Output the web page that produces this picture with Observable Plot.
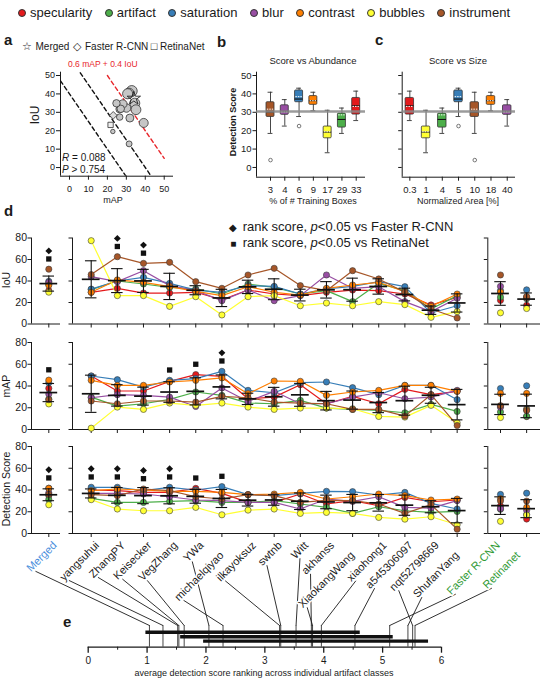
<!DOCTYPE html>
<html lang="en">
<head>
<meta charset="utf-8">
<title>Artifact detection scores</title>
<script src="https://cdn.jsdelivr.net/npm/d3@7"></script>
<script src="https://cdn.jsdelivr.net/npm/@observablehq/plot@0.6"></script>
<style>
  html, body { margin: 0; padding: 0; background: #fff; }
  #chart { position: relative; width: 541px; height: 678px; overflow: hidden; background: #fff;
           font-family: "Liberation Sans", Arial, Helvetica, sans-serif; color: #1a1a1a; }
  #chart > svg { position: absolute; left: 0; top: 0; }
  .lbl { position: absolute; white-space: nowrap; line-height: 1; }
</style>
</head>
<body>
<div id="chart"></div>
<script>
// ---------- artifact classes ----------
const classes = ["specularity", "artifact", "saturation", "blur", "contrast", "bubbles", "instrument"];
const classColors = ["#e41a1c", "#4daf4a", "#377eb8", "#984ea3", "#ff7f00", "#ffff33", "#a65628"];

// ---------- entries ----------
const teams = ["yangsuhui", "ZhangPY", "Keisecker", "VegZhang", "YWa", "michaelqiyao", "ilkayoksuz",
  "swtnb", "Witt", "akhanss", "XiaokangWang", "xiaohong1", "a545306097", "nqt52798669", "ShufanYang"];
const baselineNames = ["Faster R-CNN", "Retinanet"];

// per-class scores (columns follow `classes`)
const iouTeams = [
  [29.5, 32, 32.5, 44, 29.5, 77.5, 46],
  [33.2, 40, 40, 39.4, 41, 26.4, 62.6],
  [28.8, 37.2, 43.4, 49.6, 38.8, 26.4, 56.4],
  [28.8, 34, 37.8, 35.7, 34.7, 16.4, 57.4],
  [29.5, 32.6, 31.6, 31, 30.4, 25.4, 39.4],
  [22.6, 27.9, 29.5, 21.7, 26.4, 8.4, 33.2],
  [31.6, 37.2, 35.7, 31.6, 34.7, 25.4, 45.6],
  [27.9, 34, 35, 21.7, 29.5, 26.4, 51.8],
  [26.4, 27.9, 27.9, 26.4, 27, 17, 35.7],
  [29.5, 31, 32.6, 45.6, 33.2, 19.5, 31],
  [31.6, 20.8, 35, 33.2, 36.3, 17, 49.6],
  [31, 37.8, 39.4, 34.7, 38.8, 20.8, 41.9],
  [27.9, 31, 34.7, 20.8, 30, 18, 29.5],
  [17.7, 14, 10.2, 11.5, 16.4, 6.2, 14],
  [24.8, 26.4, 17, 23.9, 27.9, 11.5, 5.6]
];
const mapTeams = [
  [49.2, 29.8, 49.2, 29.2, 45.2, 1.2, 26.2],
  [35.4, 21.5, 45.8, 32, 40.6, 20.6, 23.7],
  [35.4, 23.7, 39, 31.4, 40.6, 18.5, 26.2],
  [44.3, 27.7, 45.2, 29.8, 43.7, 24.3, 26.2],
  [50.5, 34.5, 46.8, 21.2, 45.2, 22.2, 25.2],
  [48.9, 31.4, 53.5, 38.2, 47.4, 24.3, 30.5],
  [28.3, 24.3, 36, 25.8, 32.9, 20.6, 29.2],
  [29.8, 23.7, 33.8, 35.1, 44.6, 18.5, 25.2],
  [41.2, 26.8, 43.1, 23.7, 44.3, 19.7, 24.3],
  [23.7, 19.7, 43.7, 23.7, 31.4, 19.7, 23.7],
  [30.5, 18.5, 38.5, 29.8, 34.5, 19.1, 18.5],
  [23.7, 17.5, 32, 33.8, 36, 12, 18.5],
  [36.9, 15.4, 40.6, 28.3, 40.6, 11.4, 12.3],
  [32, 23.1, 40.6, 29.8, 40.6, 22.2, 32],
  [35.1, 16.6, 27.4, 36, 35.1, 6.2, 3.7]
];
const dsTeams = [
  [40, 32.3, 42.5, 36.9, 39.4, 31.1, 35.7],
  [39.4, 28.6, 42.5, 36.9, 40.9, 22.5, 34.8],
  [37.8, 28.6, 39.4, 36.3, 40, 20.9, 40.9],
  [37.8, 29.5, 42.5, 33.8, 38.8, 20.9, 39.4],
  [41.5, 30.2, 40, 30.8, 38.8, 24, 33.8],
  [36.9, 28.6, 43.1, 30.2, 37.8, 17.2, 31.7],
  [28.6, 28.6, 35.7, 28.6, 35.7, 21.5, 35.7],
  [28.6, 30.2, 34.8, 28.6, 36.3, 22.5, 34.8],
  [36.3, 27.1, 36.9, 22.5, 37.8, 18.5, 28.6],
  [27.1, 24, 38.8, 31.7, 31.7, 19.4, 30.5],
  [30.2, 18.5, 38.5, 29.5, 33.8, 18.5, 30.2],
  [25.5, 24.6, 35.4, 33.8, 36.3, 14.8, 27.1],
  [33.2, 20.9, 37.8, 24, 34.8, 13.2, 18.5],
  [29.2, 19.4, 27.7, 23.4, 30.8, 15.4, 26.5],
  [30.8, 20.3, 22.5, 30.2, 31.7, 8, 4]
];
const iouMerged = [31.1, 37, 39.7, 38.7, 36, 29.6, 51];
const mapMerged = [37.8, 28, 43, 32.6, 45.4, 23.5, 27.4];
const dsMerged = [35, 31.3, 41.6, 37.4, 41.6, 26.4, 36];
const iouBaselines = [[22, 25, 31, 35, 29.7, 10.4, 45.6], [17.4, 23.5, 31.8, 24.5, 25, 14.4, 25.6]];
const mapBaselines = [[21.3, 16.1, 37.7, 20.4, 33.2, 11, 21.9], [11.9, 12.2, 40.2, 18.9, 33.2, 18, 17.4]];
const dsBaselines = [[25.2, 22.3, 35.9, 22.8, 32, 11.2, 30], [13.3, 17.4, 37.1, 21.3, 24, 17, 29.8]];

// entries whose rank score differs (p<0.05) from each baseline
const fasterSigIoU = ["Merged", "ZhangPY", "Keisecker"];
const retinaSigIoU = ["Merged", "ZhangPY", "Keisecker"];
const fasterSigMAP = ["michaelqiyao"];
const retinaSigMAP = ["Merged", "VegZhang", "YWa", "michaelqiyao"];
const fasterSigDS = ["Merged", "yangsuhui", "ZhangPY", "Keisecker", "VegZhang"];
const retinaSigDS = ["Merged", "yangsuhui", "ZhangPY", "Keisecker", "VegZhang", "YWa", "michaelqiyao"];

// class orderings for the abundance / size panels
const abundanceClasses = ["instrument", "blur", "saturation", "contrast", "bubbles", "artifact", "specularity"];
const abundanceLabels = ["3", "4", "6", "9", "17", "29", "33"];
const sizeClasses = ["specularity", "bubbles", "artifact", "saturation", "instrument", "contrast", "blur"];
const sizeLabels = ["0.3", "1", "4", "5", "10", "18", "40"];

// iso-score lines 0.6 mAP + 0.4 IoU = level
const isoLevels = [16, 24];
const bestLevel = 32;
const bestSpan = [20, 50];

// average rank across artifact classes
const rankEntries = ["Merged", ...teams, ...baselineNames];
const avgRank = [1.04, 1.27, 1.52, 1.54, 1.63, 2.05, 2.29, 3.25, 3.27, 3.53, 3.79, 3.81, 3.96, 4.53, 5.51, 5.43, 5.12, 5.55];
const cliqueFrom = [0.98, 1.57, 1.96];
const cliqueTo = [4.62, 5.18, 5.78];

// ---------- helpers ----------
const chart = document.getElementById("chart");
const FONT = '"Liberation Sans", Arial, Helvetica, sans-serif';
const W = 541, H = 678;
const INK = "#1a1a1a";
const colorScale = {domain: classes, range: classColors};

function frameBox(x0, x1, y0, y1) {
  return {width: W, height: H, marginLeft: x0, marginRight: W - x1, marginTop: y0, marginBottom: H - y1};
}
function mount(options, fontSize) {
  const svg = Plot.plot({...options, style: {fontFamily: FONT, fontSize: fontSize + "px", background: "transparent", overflow: "visible", color: INK}});
  chart.appendChild(svg);
  return svg;
}
function text(html, x, baseline, size, align = "start", css = "") {
  const el = document.createElement("div");
  el.className = "lbl";
  el.innerHTML = html;
  const shift = align === "center" ? "translateX(-50%)" : align === "end" ? "translateX(-100%)" : "none";
  el.style.cssText = `left:${x}px;top:${baseline - 0.8465 * size}px;font-size:${size}px;transform:${shift};${css}`;
  chart.appendChild(el);
}
function vtext(html, cx, cy, size, css = "") {
  const el = document.createElement("div");
  el.className = "lbl";
  el.innerHTML = html;
  el.style.cssText = `left:${cx}px;top:${cy}px;font-size:${size}px;transform:translate(-50%,-50%) rotate(-90deg);${css}`;
  chart.appendChild(el);
}
const mean = (row) => d3.mean(row);
const intFmt = d3.format("d");

// ---------- top legend ----------
const legend = document.createElement("div");
legend.style.cssText = "position:absolute;left:18px;top:6px;display:flex;gap:12.6px;align-items:center;font-size:13px;line-height:13px;";
classes.forEach((c, k) => {
  const item = document.createElement("span");
  item.style.cssText = "display:flex;align-items:center;gap:4px;";
  item.innerHTML = `<span style="display:inline-block;width:6px;height:6px;border-radius:50%;background:${classColors[k]};border:0.8px solid #333"></span>${c}`;
  legend.appendChild(item);
});
chart.appendChild(legend);

// ---------- panel a: IoU vs mAP ----------
const teamSummary = teams.map((name, i) => ({name, mAP: mean(mapTeams[i]), IoU: mean(iouTeams[i]), DS: mean(dsTeams[i])}));
const mergedSummary = {name: "Merged", mAP: mean(mapMerged), IoU: mean(iouMerged)};
const baseSummary = baselineNames.map((name, j) => ({name, mAP: mean(mapBaselines[j]), IoU: mean(iouBaselines[j])}));
const aX = [-4.75, 54.9], aY = [-4.7, 51.8];
const isoData = isoLevels.flatMap((c) => aX.map((m) => ({c, mAP: m, IoU: (c - 0.6 * m) / 0.4})));
const bestData = bestSpan.map((m) => ({mAP: m, IoU: (bestLevel - 0.6 * m) / 0.4}));

mount({
  ...frameBox(60, 173, 71.7, 175.7),
  x: {domain: aX}, y: {domain: aY},
  r: {type: "linear", domain: [20, 37], range: [2, 5.5]},
  marks: [
    Plot.ruleX([aX[0]], {strokeWidth: 1}),
    Plot.ruleY([aY[0]], {strokeWidth: 1}),
    Plot.axisX({ticks: d3.range(0, 51, 10), tickSize: 4, tickPadding: 5, tickFormat: intFmt, label: null}),
    Plot.axisY({ticks: d3.range(0, 51, 10), tickSize: 4, tickPadding: 1.5, tickFormat: intFmt, label: null}),
    Plot.line(isoData, {x: "mAP", y: "IoU", z: "c", stroke: "#111", strokeWidth: 1.4, strokeDasharray: "4,3", clip: true}),
    Plot.line(bestData, {x: "mAP", y: "IoU", stroke: "#e8262b", strokeWidth: 1.4, strokeDasharray: "4,3", clip: true}),
    Plot.dot(teamSummary, {x: "mAP", y: "IoU", r: "DS", fill: "#c6c6c6", stroke: "#333", strokeWidth: 0.8}),
    Plot.dot(baseSummary.slice(0, 1), {x: "mAP", y: "IoU", symbol: "diamond2", r: 3.4, fill: "#dcdcdc", stroke: "#333", strokeWidth: 0.8}),
    Plot.dot(baseSummary.slice(1), {x: "mAP", y: "IoU", symbol: "square", r: 3, fill: "#eee", stroke: "#333", strokeWidth: 0.8}),
    Plot.dot([mergedSummary], {x: "mAP", y: "IoU", symbol: "star", r: 4.2, fill: "none", stroke: "#222", strokeWidth: 0.9})
  ]
}, 9);

text("<b>a</b>", 4, 45, 15);
text("☆", 26.7, 50, 11, "center");
text("Merged", 35.5, 50, 10);
text("◇", 77, 50, 11, "center");
text("Faster R-CNN", 85, 50, 10);
text("□", 154, 50, 11, "center");
text("RetinaNet", 160, 50, 10);
text("0.6 mAP + 0.4 IoU", 68, 67, 8.5, "start", "color:#e8262b;");
text("<i>R</i> = 0.088", 62, 161.5, 10);
text("<i>P</i> &gt; 0.754", 62, 173, 10);
vtext("IoU", 35, 115, 12);
text("mAP", 113, 204, 9, "center");

// ---------- panels b, c: detection score distributions ----------
function quantileM(sorted, p) {
  const n = sorted.length;
  const pos = Math.min(Math.max(n * p + 0.5, 1), n) - 1;
  const lo = Math.floor(pos), hi = Math.ceil(pos);
  return sorted[lo] + (pos - lo) * (sorted[hi] - sorted[lo]);
}
function boxStats(values) {
  const s = values.slice().sort(d3.ascending);
  const q1 = quantileM(s, 0.25), med = quantileM(s, 0.5), q3 = quantileM(s, 0.75);
  const lof = q1 - 1.5 * (q3 - q1), hif = q3 + 1.5 * (q3 - q1);
  const inside = s.filter((v) => v >= lof && v <= hif);
  return {q1, med, q3, mean: d3.mean(s), lo: d3.min(inside), hi: d3.max(inside), out: s.filter((v) => v < lof || v > hif)};
}
const overallDS = d3.mean(dsTeams.flat());
const bcY = [-5.3, 51.8];

function boxPanel(order, labels, x0, x1, xDom, hw, cap, showLabels) {
  const st = order.map((c, pos) => ({pos, cls: c, ...boxStats(dsTeams.map((r) => r[classes.indexOf(c)]))}));
  const outliers = st.flatMap((d) => d.out.map((v) => ({pos: d.pos, v})));
  mount({
    ...frameBox(x0, x1, 71.7, 176.7),
    x: {domain: xDom}, y: {domain: bcY}, color: colorScale,
    marks: [
      Plot.ruleX([xDom[0]], {strokeWidth: 1}),
      Plot.ruleY([bcY[0]], {strokeWidth: 1}),
      Plot.axisY({ticks: d3.range(0, 51, 10), tickSize: 3.5, tickPadding: 1.5, tickFormat: showLabels ? intFmt : () => "", label: null}),
      Plot.axisX({ticks: d3.range(order.length), tickSize: 4, tickPadding: 5.5, tickFormat: (i) => labels[i], label: null}),
      Plot.ruleX(st, {x: "pos", y1: "lo", y2: "hi", stroke: "#333", strokeWidth: 0.9}),
      Plot.ruleY(st, {y: "lo", x1: (d) => d.pos - cap, x2: (d) => d.pos + cap, stroke: "#333", strokeWidth: 0.9}),
      Plot.ruleY(st, {y: "hi", x1: (d) => d.pos - cap, x2: (d) => d.pos + cap, stroke: "#333", strokeWidth: 0.9}),
      Plot.rect(st, {x1: (d) => d.pos - hw, x2: (d) => d.pos + hw, y1: "q1", y2: "q3", fill: "cls", stroke: "#333", strokeWidth: 0.8, rx: 1}),
      Plot.ruleY(st, {y: "mean", x1: (d) => d.pos - hw, x2: (d) => d.pos + hw, stroke: "#111", strokeWidth: 1.1}),
      Plot.ruleY(st, {y: "med", x1: (d) => d.pos - hw * 0.8, x2: (d) => d.pos + hw * 0.8, stroke: "#fff", strokeWidth: 1, strokeDasharray: "1.5,1"}),
      Plot.dot(outliers, {x: "pos", y: "v", r: 1.8, fill: "#fff", stroke: "#555", strokeWidth: 0.8}),
      Plot.ruleY([overallDS], {stroke: "#8a8a8a", strokeWidth: 2.6, strokeOpacity: 0.85})
    ]
  }, 9.5);
}
boxPanel(abundanceClasses, abundanceLabels, 256, 365, [-0.98, 6.65], 0.28, 0.17, true);
boxPanel(sizeClasses, sizeLabels, 401.7, 515, [-0.47, 6.51], 0.26, 0.15, false);

text("<b>b</b>", 217, 46.5, 15);
text("<b>c</b>", 375, 45, 15);
text("Score vs Abundance", 313, 64.3, 9.5, "center");
text("Score vs Size", 458, 64.3, 9.5, "center");
vtext("<b>Detection Score</b>", 233.3, 121.7, 9);
text("% of # Training Boxes", 313, 205, 9, "center");
text("Normalized Area [%]", 458, 205, 9, "center");

// ---------- panel d: per-class scores of every entry ----------
const step = 26.14;
const mainDom = [(72 - 90.7) / step, (470 - 90.7) / step];
const mergedDom = [(31 - 48.3) / step, (60 - 48.3) / step];
const baseDom = [(487.3 - 500) / step, (540 - 500) / step];
const yTicks = d3.range(0, 81, 20);

function groupMarks(rows, names, xDom, withLines, withLabels, sigF, sigR) {
  const recs = rows.flatMap((row, i) => row.map((v, k) => ({i, cls: classes[k], v})));
  const st = rows.map((row, i) => ({i, name: names[i], m: d3.mean(row), s: d3.deviation(row), top: d3.max(row)}));
  return [
    Plot.ruleX([xDom[0]], {strokeWidth: 1}),
    Plot.ruleY([0], {strokeWidth: 1}),
    Plot.axisY({ticks: yTicks, tickSize: 3.5, tickPadding: 1, tickFormat: withLabels ? intFmt : () => "", label: null}),
    Plot.axisX({ticks: d3.range(rows.length), tickSize: 4, tickFormat: () => "", label: null}),
    withLines ? Plot.line(recs, {x: "i", y: "v", z: "cls", stroke: "cls", strokeWidth: 1.2}) : null,
    Plot.dot(recs, {x: "i", y: "v", fill: "cls", stroke: "#3a3a3a", strokeWidth: 0.6, r: 3.1}),
    Plot.ruleX(st, {x: "i", y1: (d) => d.m - d.s, y2: (d) => d.m + d.s, stroke: "#111", strokeWidth: 1.1}),
    Plot.ruleY(st, {y: (d) => d.m - d.s, x1: (d) => d.i - 0.22, x2: (d) => d.i + 0.22, stroke: "#111", strokeWidth: 1.1}),
    Plot.ruleY(st, {y: (d) => d.m + d.s, x1: (d) => d.i - 0.22, x2: (d) => d.i + 0.22, stroke: "#111", strokeWidth: 1.1}),
    Plot.ruleY(st, {y: "m", x1: (d) => d.i - 0.34, x2: (d) => d.i + 0.34, stroke: "#111", strokeWidth: 1.7}),
    Plot.dot(st.filter((d) => sigF.includes(d.name)), {x: "i", y: (d) => d.top + 17, symbol: "diamond2", r: 3.1, fill: "#111"}),
    Plot.dot(st.filter((d) => sigR.includes(d.name)), {x: "i", y: (d) => d.top + 9.5, symbol: "square", r: 3, fill: "#111"})
  ];
}

const dRows = [
  {team: iouTeams, merged: iouMerged, base: iouBaselines, y: [237.5, 323.5], sigF: fasterSigIoU, sigR: retinaSigIoU},
  {team: mapTeams, merged: mapMerged, base: mapBaselines, y: [342, 429], sigF: fasterSigMAP, sigR: retinaSigMAP},
  {team: dsTeams, merged: dsMerged, base: dsBaselines, y: [446, 533], sigF: fasterSigDS, sigR: retinaSigDS}
];
for (const row of dRows) {
  const [y0, y1] = row.y;
  const common = {y: {domain: [0, 80]}, color: colorScale};
  mount({...frameBox(31, 60, y0, y1), ...common, x: {domain: mergedDom},
    marks: groupMarks([row.merged], ["Merged"], mergedDom, false, true, row.sigF, row.sigR)}, 10.5);
  mount({...frameBox(72, 470, y0, y1), ...common, x: {domain: mainDom},
    marks: groupMarks(row.team, teams, mainDom, true, false, row.sigF, row.sigR)}, 10.5);
  mount({...frameBox(487.3, 540, y0, y1), ...common, x: {domain: baseDom},
    marks: groupMarks(row.base, baselineNames, baseDom, false, false, [], [])}, 10.5);
}

text("<b>d</b>", 4, 216, 15);
text("◆", 233.3, 231.5, 10, "center");
text("rank score, <i>p</i>&lt;0.05 vs Faster R-CNN", 242.7, 231.5, 13);
text("■", 233.3, 247.5, 10, "center");
text("rank score, <i>p</i>&lt;0.05 vs RetinaNet", 242.7, 247.5, 13);
vtext("IoU", 6, 280, 10.5);
vtext("mAP", 6, 386, 10.5);
vtext("Detection Score", 5.5, 489, 10.5);

// ---------- panel e: average ranking ----------
const eDom = [0, 6];
const eFrame = [87.7, 441, 625, 646.7];
const rankData = rankEntries.map((name, i) => ({name, rank: avgRank[i]}));
const cliqueData = cliqueFrom.map((from, i) => ({from, to: cliqueTo[i], level: 0.69 - 0.205 * i}));
mount({
  ...frameBox(...eFrame),
  x: {domain: eDom}, y: {domain: [0, 1], axis: null},
  marks: [
    Plot.ruleY([0], {strokeWidth: 1.3}),
    Plot.axisX({ticks: d3.range(0, 7), tickSize: 6, tickPadding: 4, strokeWidth: 1.3, tickFormat: intFmt, label: null}),
    Plot.axisX({ticks: d3.range(0.5, 6, 1), tickSize: 3, tickFormat: () => "", label: null}),
    Plot.ruleX(rankData, {x: "rank", y1: 0, y2: 1, stroke: "#333", strokeWidth: 0.9}),
    Plot.ruleY(cliqueData, {x1: "from", x2: "to", y: "level", stroke: "#111", strokeWidth: 3.4})
  ]
}, 10);
text("<b>e</b>", 63, 627, 15);
text("average detection score ranking across individual artifact classes", 264, 676.3, 9, "center");

// ---------- entry labels with leader lines to their average rank ----------
const sx = (dom, x0, x1) => Plot.scale({x: {domain: dom, range: [x0, x1]}});
const mergedScale = sx(mergedDom, 31, 60), mainScale = sx(mainDom, 72, 470), baseScale = sx(baseDom, 487.3, 540);
const rankScale = sx(eDom, eFrame[0], eFrame[1]);
const eY = Plot.scale({y: {domain: [0, 1], range: [eFrame[3], eFrame[2]]}});
const dsBottom = Plot.scale({y: {domain: [0, 80], range: [533, 446]}}).apply(0);
const lowerRow = ["michaelqiyao", "XiaokangWang", "ShufanYang", "Retinanet"];
const ctx = document.createElement("canvas").getContext("2d");
ctx.font = `11px ${FONT}`;
const c45 = Math.SQRT1_2;
const labelData = rankData.map((d) => {
  const isBase = baselineNames.includes(d.name);
  const tick = d.name === "Merged" ? mergedScale.apply(0)
    : isBase ? baseScale.apply(baselineNames.indexOf(d.name))
    : mainScale.apply(teams.indexOf(d.name));
  const low = lowerRow.includes(d.name);
  const ax = tick + (low ? 0 : 6) - (isBase ? 8.5 : 0);
  const ay = dsBottom + (low ? 20 : 10);
  const w = ctx.measureText(d.name).width;
  return {
    name: d.name, ax, ay,
    color: d.name === "Merged" ? "#4a8fdc" : isBase ? "#2f9a35" : INK,
    x1: ax - c45 * (w - 4) + 4.2, y1: ay + c45 * (w - 4) + 4.2,
    x2: rankScale.apply(d.rank), y2: eY.apply(1)
  };
});
mount({
  width: W, height: H, marginLeft: 0, marginRight: 0, marginTop: 0, marginBottom: 0,
  x: {type: "identity", axis: null}, y: {type: "identity", axis: null},
  marks: [
    Plot.link(labelData, {x1: "x1", y1: "y1", x2: "x2", y2: "y2", stroke: INK, strokeWidth: 0.9}),
    Plot.text(labelData, {x: "ax", y: "ay", text: "name", rotate: -45, textAnchor: "end", fontSize: 11,
      fill: "color", stroke: "white", strokeWidth: 3})
  ]
}, 11);
</script>
</body>
</html>
